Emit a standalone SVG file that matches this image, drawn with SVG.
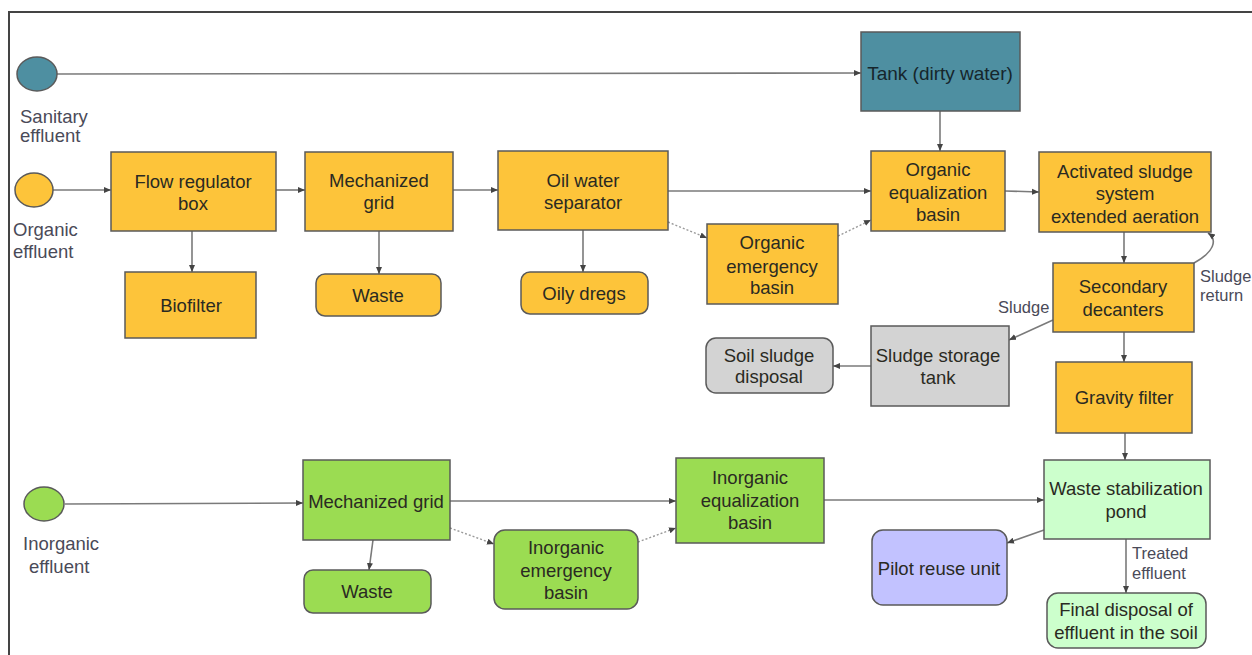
<svg xmlns="http://www.w3.org/2000/svg" width="1252" height="655" viewBox="0 0 1252 655">
<defs>
<marker id="ah" markerWidth="8" markerHeight="8" refX="7" refY="4" orient="auto" markerUnits="userSpaceOnUse">
<path d="M0,1 L7,4 L0,7 Z" fill="#444"/>
</marker>
</defs>
<style>
.box{stroke:#5a5a5a;stroke-width:1.5}
.org{fill:#fdc43a}
.grn{fill:#9bdc52}
.gry{fill:#d3d3d3}
.pond{fill:#ccffcc}
.pil{fill:#c2c2ff}
.teal{fill:#4e8fa1}
text{font-family:"Liberation Sans",Arial,sans-serif;font-size:18.5px;fill:#2a2a22;text-anchor:middle}
.lbl{fill:#4a4a58;text-anchor:start}
.sm{font-size:16.5px;fill:#4a4a58;text-anchor:start}
.big{font-size:19px;fill:#16262c}
.c{fill:none;stroke:#7a7a7a;stroke-width:1.6;marker-end:url(#ah)}
.d{fill:none;stroke:#9a9a9a;stroke-width:1.4;stroke-dasharray:2,2;marker-end:url(#ah)}
</style>
<rect width="1252" height="655" fill="#fff"/>
<path d="M9,655 L9,12 L1252,12" fill="none" stroke="#444" stroke-width="2"/>

<g id="connectors">
<path class="c" d="M57,74 L861,73"/>
<path class="c" d="M53,190 L111,190"/>
<path class="c" d="M276,190 L305,190"/>
<path class="c" d="M453,190 L498,190"/>
<path class="c" d="M668,191 L871,191"/>
<path class="c" d="M192,231 L192,272"/>
<path class="c" d="M379,231 L379,274"/>
<path class="c" d="M583,230 L583,272"/>
<path class="d" d="M668,222 L707,238"/>
<path class="d" d="M838,236 L871,220"/>
<path class="c" d="M940,111 L940,151"/>
<path class="c" d="M1005,191 L1039,192"/>
<path class="c" d="M1124,232 L1124,263"/>
<path class="c" d="M1194,263 C1214,252 1218,240 1208,233"/>
<path class="c" d="M1053,320 L1009,340"/>
<path class="c" d="M871,366 L833,366"/>
<path class="c" d="M1124,332 L1124,362"/>
<path class="c" d="M1125,433 L1125,460"/>
<path class="c" d="M1044,530 L1007,543"/>
<path class="c" d="M1126,539 L1126,593"/>
<path class="c" d="M65,504 L303,503"/>
<path class="c" d="M373,540 L369,570"/>
<path class="d" d="M450,528 L494,544"/>
<path class="d" d="M638,542 L676,528"/>
<path class="c" d="M450,501 L676,501"/>
<path class="c" d="M824,500 L1044,500"/>
<text class="sm" x="1200" y="282">Sludge</text>
<text class="sm" x="1200" y="301">return</text>
<text class="sm" x="998" y="313">Sludge</text>
<text class="sm" x="1132" y="559">Treated</text>
<text class="sm" x="1132" y="579">effluent</text>
</g>

<g id="sanitary">
<ellipse class="box teal" cx="37" cy="74" rx="20" ry="17"/>
<text class="lbl" x="20" y="123">Sanitary</text>
<text class="lbl" x="20" y="142">effluent</text>
</g>
<g id="organic">
<ellipse class="box org" cx="34" cy="190" rx="19" ry="17"/>
<text class="lbl" x="13" y="236">Organic</text>
<text class="lbl" x="13" y="258">effluent</text>
</g>
<g id="inorganic">
<ellipse class="box grn" cx="44" cy="504" rx="20" ry="17"/>
<text class="lbl" x="23" y="550">Inorganic</text>
<text class="lbl" x="29" y="573">effluent</text>
</g>

<g id="tank">
<rect class="box teal" x="861" y="32" width="159" height="79"/>
<text class="big" x="940" y="80">Tank (dirty water)</text>
</g>
<g id="flow-regulator">
<rect class="box org" x="111" y="152" width="165" height="79"/>
<text x="193" y="188">Flow regulator</text>
<text x="193" y="210">box</text>
</g>
<g id="mech-grid-org">
<rect class="box org" x="305" y="152" width="148" height="79"/>
<text x="379" y="187">Mechanized</text>
<text x="379" y="209">grid</text>
</g>
<g id="oil-water">
<rect class="box org" x="498" y="151" width="170" height="79"/>
<text x="583" y="187">Oil water</text>
<text x="583" y="209">separator</text>
</g>
<g id="biofilter">
<rect class="box org" x="125" y="272" width="131" height="66"/>
<text x="191" y="312">Biofilter</text>
</g>
<g id="waste-org">
<rect class="box org" x="316" y="274" width="125" height="42" rx="9"/>
<text x="378" y="302">Waste</text>
</g>
<g id="oily-dregs">
<rect class="box org" x="521" y="272" width="127" height="42" rx="9"/>
<text x="584" y="300">Oily dregs</text>
</g>
<g id="org-emergency">
<rect class="box org" x="707" y="224" width="131" height="80"/>
<text x="772" y="249">Organic</text>
<text x="772" y="273">emergency</text>
<text x="772" y="294">basin</text>
</g>
<g id="org-equalization">
<rect class="box org" x="871" y="151" width="134" height="80"/>
<text x="938" y="176">Organic</text>
<text x="938" y="199">equalization</text>
<text x="938" y="221">basin</text>
</g>
<g id="activated-sludge">
<rect class="box org" x="1039" y="152" width="172" height="80"/>
<text x="1125" y="178">Activated sludge</text>
<text x="1125" y="200">system</text>
<text x="1125" y="223">extended aeration</text>
</g>
<g id="secondary-decanters">
<rect class="box org" x="1053" y="263" width="141" height="69"/>
<text x="1123" y="293">Secondary</text>
<text x="1123" y="316">decanters</text>
</g>
<g id="sludge-storage">
<rect class="box gry" x="871" y="326" width="138" height="80"/>
<text x="938" y="362">Sludge storage</text>
<text x="938" y="384">tank</text>
</g>
<g id="soil-sludge">
<rect class="box gry" x="706" y="338" width="127" height="55" rx="10"/>
<text x="769" y="362">Soil sludge</text>
<text x="769" y="383">disposal</text>
</g>
<g id="gravity-filter">
<rect class="box org" x="1056" y="362" width="136" height="71"/>
<text x="1124" y="404">Gravity filter</text>
</g>
<g id="stabilization-pond">
<rect class="box pond" x="1044" y="460" width="166" height="79"/>
<text x="1126" y="495">Waste stabilization</text>
<text x="1126" y="518">pond</text>
</g>
<g id="pilot-reuse">
<rect class="box pil" x="872" y="530" width="135" height="75" rx="11"/>
<text x="939" y="575">Pilot reuse unit</text>
</g>
<g id="final-disposal">
<rect class="box pond" x="1047" y="593" width="159" height="55" rx="11"/>
<text x="1126" y="616">Final disposal of</text>
<text x="1126" y="639">effluent in the soil</text>
</g>
<g id="mech-grid-inorg">
<rect class="box grn" x="303" y="460" width="147" height="80"/>
<text x="376" y="508">Mechanized grid</text>
</g>
<g id="waste-inorg">
<rect class="box grn" x="304" y="570" width="127" height="43" rx="9"/>
<text x="367" y="598">Waste</text>
</g>
<g id="inorg-emergency">
<rect class="box grn" x="494" y="530" width="144" height="79" rx="11"/>
<text x="566" y="554">Inorganic</text>
<text x="566" y="577">emergency</text>
<text x="566" y="599">basin</text>
</g>
<g id="inorg-equalization">
<rect class="box grn" x="676" y="458" width="148" height="85"/>
<text x="750" y="484">Inorganic</text>
<text x="750" y="507">equalization</text>
<text x="750" y="529">basin</text>
</g>
</svg>
